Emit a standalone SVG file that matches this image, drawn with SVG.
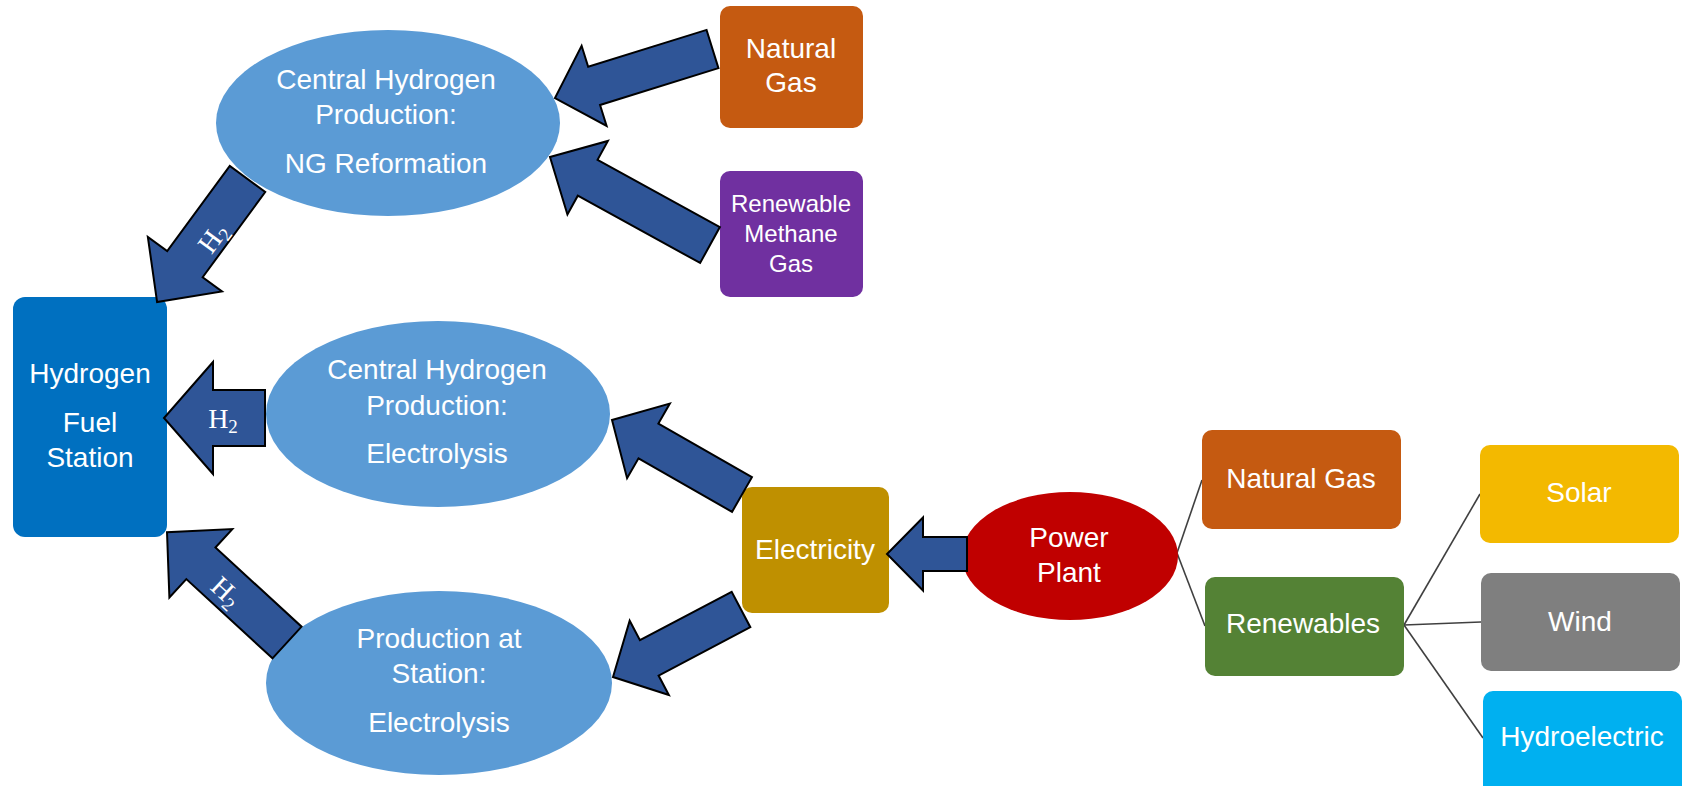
<svg xmlns="http://www.w3.org/2000/svg" width="1684" height="786" viewBox="0 0 1684 786">
  <style>
    text { font-family: "Liberation Sans", Arial, sans-serif; font-size: 28px; fill: #ffffff; text-anchor: middle; }
    .small { font-size: 24px; }
    .h2 { font-family: "Liberation Serif", "Times New Roman", serif; font-size: 28px; }
    .sub { font-size: 19px; }
    .proc { fill: #5B9BD5; }
    .arrow { fill: #2F5597; stroke: #000000; stroke-width: 2; stroke-linejoin: miter; }
    .link { stroke: #404040; stroke-width: 1.6; fill: none; }
  </style>

  <rect width="1684" height="786" fill="#ffffff"/>

  <!-- thin tree links from the power plant -->
  <g id="links">
    <line class="link" x1="1177" y1="553" x2="1202" y2="480"/>
    <line class="link" x1="1177" y1="553" x2="1205" y2="626"/>
    <line class="link" x1="1404" y1="625" x2="1480" y2="494"/>
    <line class="link" x1="1404" y1="625" x2="1481" y2="622"/>
    <line class="link" x1="1404" y1="625" x2="1483" y2="738"/>
  </g>

  <g id="ng-reformation">
    <ellipse class="proc" cx="388" cy="123" rx="172" ry="93"/>
    <text x="386" y="89">Central Hydrogen</text>
    <text x="386" y="124">Production:</text>
    <text x="386" y="173">NG Reformation</text>
  </g>

  <g id="fuel-station">
    <rect x="13" y="297" width="154" height="240" rx="12" fill="#0070C0"/>
    <text x="90" y="383">Hydrogen</text>
    <text x="90" y="432">Fuel</text>
    <text x="90" y="467">Station</text>
  </g>

  <g id="central-electrolysis">
    <ellipse class="proc" cx="438" cy="414" rx="172" ry="93"/>
    <text x="437" y="379">Central Hydrogen</text>
    <text x="437" y="415">Production:</text>
    <text x="437" y="463">Electrolysis</text>
  </g>

  <g id="station-electrolysis">
    <ellipse class="proc" cx="439" cy="683" rx="173" ry="92"/>
    <text x="439" y="648">Production at</text>
    <text x="439" y="683">Station:</text>
    <text x="439" y="732">Electrolysis</text>
  </g>

  <g id="natural-gas-feed">
    <rect x="720" y="6" width="143" height="122" rx="10" fill="#C55A11"/>
    <text x="791" y="58">Natural</text>
    <text x="791" y="92">Gas</text>
  </g>

  <g id="methane-feed">
    <rect x="720" y="171" width="143" height="126" rx="10" fill="#7030A0"/>
    <text class="small" x="791" y="212">Renewable</text>
    <text class="small" x="791" y="242">Methane</text>
    <text class="small" x="791" y="272">Gas</text>
  </g>

  <g id="electricity">
    <rect x="742" y="487" width="147" height="126" rx="10" fill="#BF9000"/>
    <text x="815" y="559">Electricity</text>
  </g>

  <g id="power-plant">
    <ellipse cx="1070" cy="556" rx="108" ry="64" fill="#C00000"/>
    <text x="1069" y="547">Power</text>
    <text x="1069" y="582">Plant</text>
  </g>

  <g id="natural-gas-power">
    <rect x="1202" y="430" width="199" height="99" rx="10" fill="#C55A11"/>
    <text x="1301" y="488">Natural Gas</text>
  </g>

  <g id="renewables">
    <rect x="1205" y="577" width="199" height="99" rx="10" fill="#548235"/>
    <text x="1303" y="633">Renewables</text>
  </g>

  <g id="solar">
    <rect x="1480" y="445" width="199" height="98" rx="10" fill="#F3B900"/>
    <text x="1579" y="502">Solar</text>
  </g>

  <g id="wind">
    <rect x="1481" y="573" width="199" height="98" rx="10" fill="#7F7F7F"/>
    <text x="1580" y="631">Wind</text>
  </g>

  <g id="hydroelectric">
    <rect x="1483" y="691" width="199" height="104" rx="10" fill="#00B0F0"/>
    <text x="1582" y="746">Hydroelectric</text>
  </g>

  <!-- block arrows: drawn in local space pointing along +x, tail at origin -->
  <g id="connectors">
    <!-- NG reformation to fuel station -->
    <polygon class="arrow" transform="translate(247.5,179) rotate(126.3)"
      points="0,-22 105.7,-22 105.7,-46 152.7,0 105.7,46 105.7,22 0,22"/>
    <text class="h2" transform="translate(213,238) rotate(-53.7)" y="9">H<tspan class="sub" dy="5">2</tspan></text>

    <!-- central electrolysis to fuel station -->
    <polygon class="arrow" transform="translate(265,418) rotate(180)"
      points="0,-28 52,-28 52,-56 101,0 52,56 52,28 0,28"/>
    <text class="h2" x="223" y="428">H<tspan class="sub" dy="5">2</tspan></text>

    <!-- station electrolysis to fuel station -->
    <polygon class="arrow" transform="translate(287,642.5) rotate(-137.4)"
      points="0,-21.5 117,-21.5 117,-46.5 163,0 117,46.5 117,21.5 0,21.5"/>
    <text class="h2" transform="translate(226,592) rotate(42.6)" y="9">H<tspan class="sub" dy="5">2</tspan></text>

    <!-- natural gas to reformation -->
    <polygon class="arrow" transform="translate(712.5,49) rotate(162.7)"
      points="0,-20 124,-20 124,-42 165,0 124,42 124,20 0,20"/>

    <!-- renewable methane to reformation -->
    <polygon class="arrow" transform="translate(710,245) rotate(-151.2)"
      points="0,-20.5 139.6,-20.5 139.6,-42 182.6,0 139.6,42 139.6,20.5 0,20.5"/>

    <!-- electricity to central electrolysis -->
    <polygon class="arrow" transform="translate(742,494.5) rotate(-150.2)"
      points="0,-20 107.8,-20 107.8,-43 149.8,0 107.8,43 107.8,20 0,20"/>

    <!-- electricity to station electrolysis -->
    <polygon class="arrow" transform="translate(741,609.5) rotate(152.2)"
      points="0,-20 103.7,-20 103.7,-42 144.7,0 103.7,42 103.7,20 0,20"/>

    <!-- power plant to electricity -->
    <polygon class="arrow" transform="translate(967,554) rotate(180)"
      points="0,-17 44,-17 44,-36.5 80,0 44,36.5 44,17 0,17"/>
  </g>
</svg>
